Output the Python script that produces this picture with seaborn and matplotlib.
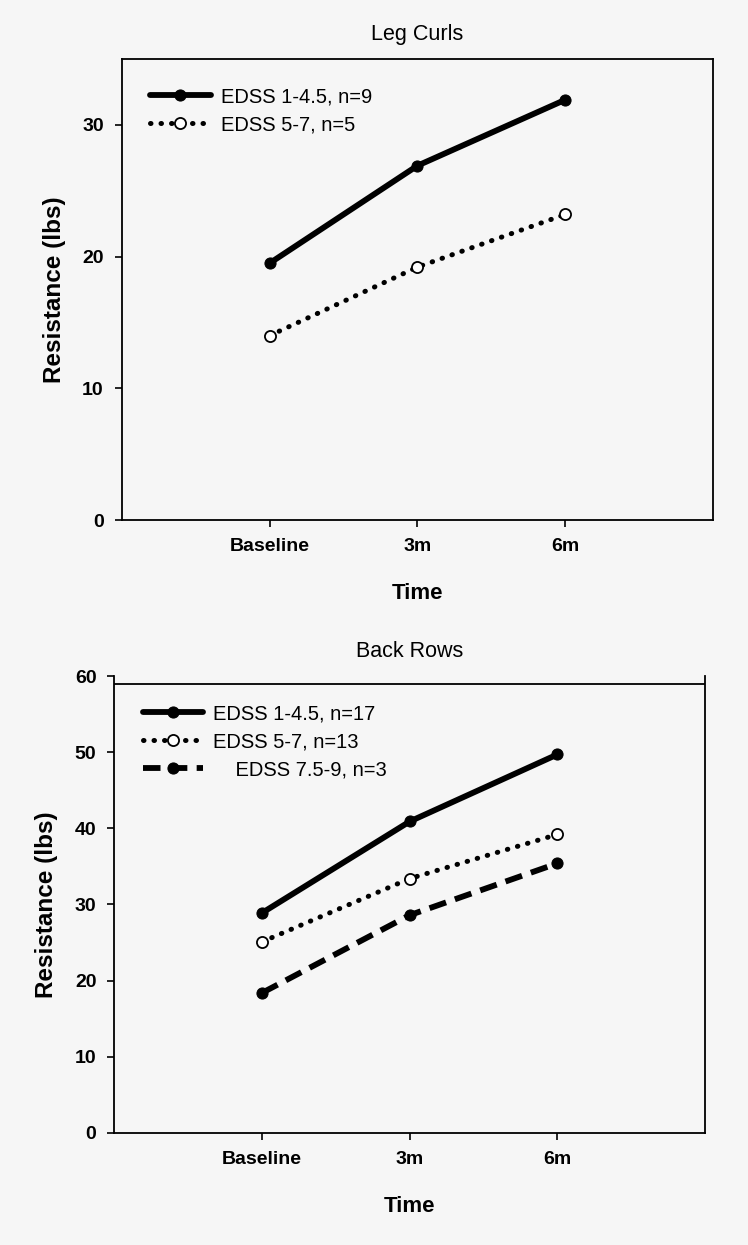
import pandas as pd
import numpy as np
import matplotlib.pyplot as plt
import seaborn as sns

# Данные
time_labels = ['Baseline', '3m', '6m']

leg_low = [19.5, 26.9, 31.9]      # EDSS 1-4.5, n=9
leg_mid = [14.0, 19.2, 23.2]      # EDSS 5-7, n=5

back_low = [28.9, 40.9, 49.7]     # EDSS 1-4.5, n=17
back_mid = [25.1, 33.4, 39.2]     # EDSS 5-7, n=13
back_high = [18.4, 28.6, 35.4]    # EDSS 7.5-9, n=3

sns.set_style('ticks')
plt.rcParams['font.family'] = ['Liberation Sans', 'DejaVu Sans']
plt.rcParams['axes.linewidth'] = 1.3
plt.rcParams['text.color'] = 'black'
plt.rcParams['axes.labelcolor'] = 'black'
plt.rcParams['xtick.color'] = 'black'
plt.rcParams['ytick.color'] = 'black'
plt.rcParams['axes.edgecolor'] = 'black'

bg = '#f6f6f6'
fig = plt.figure(figsize=(7.48, 12.45), dpi=100, facecolor=bg)
ax1 = fig.add_axes([0.163, 0.5823, 0.790, 0.3703])
ax2 = fig.add_axes([0.153, 0.090, 0.7895, 0.367])

solid = dict(color='black', linewidth=4.2, linestyle='-', marker='o',
             markersize=8, markerfacecolor='black', markeredgecolor='black')
dotted = dict(color='black', linewidth=3.6, linestyle=(0, (0.1, 2.0)), marker='o',
              markersize=8, markerfacecolor='white', markeredgecolor='black',
              markeredgewidth=1.3, dash_capstyle='round')
dashed = dict(color='black', linewidth=4.2, linestyle=(0, (3, 1.6)), marker='o',
              markersize=8, markerfacecolor='black', markeredgecolor='black')


def style_axes(ax, title, ymax, yticks):
    ax.set_facecolor(bg)
    ax.set_xlim(-1, 3)
    ax.set_ylim(0, ymax)
    ax.set_yticks(yticks)
    ax.set_xticks(range(len(time_labels)))
    ax.set_xticklabels(time_labels)
    ax.set_title(title, fontsize=15.5, pad=14)
    ax.set_xlabel('Time', fontsize=16, fontweight='bold', labelpad=20)
    ax.set_ylabel('Resistance (lbs)', fontsize=17.5, fontweight='bold', labelpad=12)
    ax.tick_params(direction='out', length=5, width=1.2, labelsize=14, pad=8)
    for lab in ax.get_xticklabels() + ax.get_yticklabels():
        lab.set_fontweight('bold')
    leg = ax.legend(loc='upper left', frameon=False, fontsize=14.5, handlelength=3.0,
                    handletextpad=0.5, labelspacing=0.45, borderaxespad=1.0)
    return leg


# --- Leg Curls ---
sns.lineplot(x=time_labels, y=leg_low, ax=ax1, label='EDSS 1-4.5, n=9', sort=False, **solid)
sns.lineplot(x=time_labels, y=leg_mid, ax=ax1, label='EDSS 5-7, n=5', sort=False, **dotted)
style_axes(ax1, 'Leg Curls', 35, [0, 10, 20, 30])

# --- Back Rows ---
sns.lineplot(x=time_labels, y=back_low, ax=ax2, label='EDSS 1-4.5, n=17', sort=False, **solid)
sns.lineplot(x=time_labels, y=back_mid, ax=ax2, label='EDSS 5-7, n=13', sort=False, **dotted)
sns.lineplot(x=time_labels, y=back_high, ax=ax2, label='    EDSS 7.5-9, n=3', sort=False, **dashed)
style_axes(ax2, 'Back Rows', 60, [0, 10, 20, 30, 40, 50, 60])
ax2.spines['top'].set_visible(False)
ax2.axhline(59, color='black', linewidth=1.3)

fig.savefig('out.png', dpi=100, facecolor=bg)
